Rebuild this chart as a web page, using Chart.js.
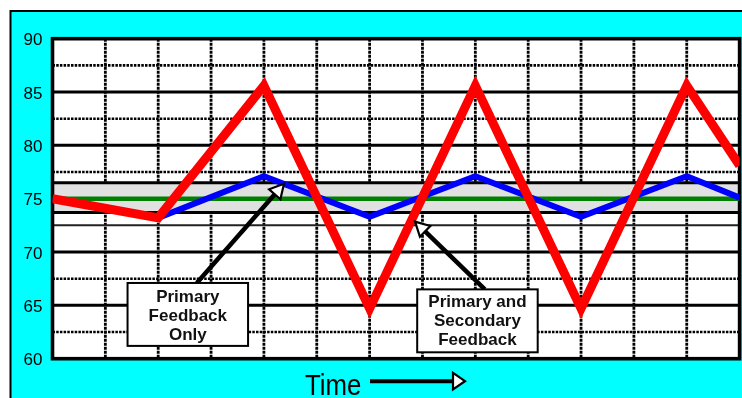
<!DOCTYPE html>
<html>
<head>
<meta charset="utf-8">
<script src="https://cdn.jsdelivr.net/npm/chart.js@4.4.1/dist/chart.umd.min.js"></script>
<style>
  html, body { margin: 0; padding: 0; background: #fff; overflow: hidden; }
  canvas { display: block; }
</style>
</head>
<body>
<canvas id="c" width="742" height="398"></canvas>
<script>
// Grid columns (time steps) where the responses turn
const timeSteps = [0, 2, 4, 6, 8, 10, 12, 13];
// Temperature with primary and secondary feedback (red)
const primaryAndSecondary = [75, 73.2, 85.6, 64.7, 85.6, 64.7, 85.6, 78.1];
// Temperature with primary feedback only (blue)
const primaryOnly = [75, 73.2, 77.1, 73.3, 77.1, 73.3, 77.1, 75.1];
// Set point (green)
const setPointTimes = [0, 13];
const setPoint = [75, 75];
// Value axis tick labels
const yTicks = [60, 65, 70, 75, 80, 85, 90];
// Horizontal reference lines and the shaded band
const solidLevels = [85, 80, 70, 65];
const dottedLevels = [87.5, 82.5, 77.5, 67.5, 62.5];
const thinLevels = [72.5];
const comfortBand = [73.7, 76.5];
// Vertical dotted columns
const columnLines = [1, 2, 3, 4, 5, 6, 7, 8, 9, 10, 11, 12];

// Callout boxes with arrows, placed in axis units
const notes = [
  { lines: ['Primary', 'Feedback', 'Only'], box: [1.42, 67.1, 3.70, 61.2], from: [2.73, 67.1], to: [4.38, 76.4], dy: 1.5 },
  { lines: ['Primary and', 'Secondary', 'Feedback'], box: [6.90, 66.5, 9.18, 60.6], from: [8.18, 66.5], to: [6.86, 72.85], dy: 0 }
];

const pts = (xs, ys) => xs.map((t, i) => ({ x: t, y: ys[i] }));

function drawArrow(ctx, x0, y0, x1, y1, head, half, shaft) {
  const ang = Math.atan2(y1 - y0, x1 - x0);
  const bx = x1 - head * Math.cos(ang), by = y1 - head * Math.sin(ang);
  ctx.save();
  ctx.setLineDash([]);
  ctx.strokeStyle = '#000';
  ctx.lineWidth = shaft;
  ctx.lineCap = 'butt';
  ctx.beginPath(); ctx.moveTo(x0, y0); ctx.lineTo(bx, by); ctx.stroke();
  ctx.beginPath();
  ctx.moveTo(x1, y1);
  ctx.lineTo(bx + half * Math.sin(ang), by - half * Math.cos(ang));
  ctx.lineTo(bx - half * Math.sin(ang), by + half * Math.cos(ang));
  ctx.closePath();
  ctx.fillStyle = '#fff'; ctx.fill();
  ctx.lineWidth = 2.2; ctx.lineJoin = 'miter'; ctx.stroke();
  ctx.restore();
}

function hLine(ctx, a, py) {
  ctx.beginPath(); ctx.moveTo(a.left, py); ctx.lineTo(a.right, py); ctx.stroke();
}

const decor = {
  id: 'decor',
  beforeDraw(chart) {
    const { ctx, chartArea: a } = chart;
    ctx.save();
    ctx.fillStyle = '#fff';
    ctx.fillRect(0, 0, chart.width, chart.height);
    ctx.fillStyle = '#00ffff';
    ctx.fillRect(10.5, 11, chart.width + 20, chart.height + 20);
    ctx.strokeStyle = '#000';
    ctx.lineWidth = 2;
    ctx.strokeRect(10.5, 11, chart.width + 20, chart.height + 20);
    ctx.fillStyle = '#fff';
    ctx.fillRect(a.left, a.top, a.right - a.left, a.bottom - a.top);
    ctx.restore();
  },
  beforeDatasetsDraw(chart) {
    const { ctx, chartArea: a } = chart;
    const xs = chart.scales.x, ys = chart.scales.y;
    ctx.save();
    ctx.beginPath(); ctx.rect(a.left, a.top, a.right - a.left, a.bottom - a.top); ctx.clip();
    ctx.strokeStyle = '#000';
    // dotted columns
    ctx.lineWidth = 2.8; ctx.setLineDash([3, 1]);
    columnLines.forEach(t => {
      const px = xs.getPixelForValue(t);
      ctx.beginPath(); ctx.moveTo(px, a.top); ctx.lineTo(px, a.bottom); ctx.stroke();
    });
    // dotted rows
    ctx.lineWidth = 2.6; ctx.setLineDash([2.5, 1.2]);
    dottedLevels.forEach(v => hLine(ctx, a, ys.getPixelForValue(v)));
    ctx.setLineDash([]);
    // solid rows
    ctx.lineWidth = 3;
    solidLevels.forEach(v => hLine(ctx, a, ys.getPixelForValue(v)));
    ctx.lineWidth = 2; ctx.strokeStyle = '#222';
    thinLevels.forEach(v => hLine(ctx, a, ys.getPixelForValue(v)));
    // shaded band
    const yb = ys.getPixelForValue(comfortBand[0]);
    const yt = ys.getPixelForValue(comfortBand[1]);
    ctx.fillStyle = '#e1e1e1';
    ctx.fillRect(a.left, yt, a.right - a.left, yb - yt);
    ctx.strokeStyle = '#000'; ctx.lineWidth = 3;
    hLine(ctx, a, yt); hLine(ctx, a, yb);
    ctx.restore();
    // plot frame
    ctx.save();
    ctx.strokeStyle = '#000'; ctx.lineWidth = 3.6;
    ctx.strokeRect(a.left, a.top, a.right - a.left, a.bottom - a.top);
    ctx.restore();
  },
  afterDatasetsDraw(chart) {
    const { ctx, chartArea: a } = chart;
    const xs = chart.scales.x, ys = chart.scales.y;
    const X = v => xs.getPixelForValue(v), Y = v => ys.getPixelForValue(v);
    notes.forEach(n => {
      drawArrow(ctx, X(n.from[0]), Y(n.from[1]), X(n.to[0]), Y(n.to[1]), 14, 7.5, 4.5);
      const x0 = X(n.box[0]), y0 = Y(n.box[1]), x1 = X(n.box[2]), y1 = Y(n.box[3]);
      ctx.save();
      ctx.fillStyle = '#fff'; ctx.fillRect(x0, y0, x1 - x0, y1 - y0);
      ctx.strokeStyle = '#000'; ctx.lineWidth = 2; ctx.strokeRect(x0, y0, x1 - x0, y1 - y0);
      ctx.fillStyle = '#111';
      ctx.font = 'bold 17px "Liberation Sans", Arial, sans-serif';
      ctx.textAlign = 'center'; ctx.textBaseline = 'middle';
      const cx = (x0 + x1) / 2, cy = (y0 + y1) / 2 + n.dy;
      n.lines.forEach((s, i) => ctx.fillText(s, cx, cy + (i - (n.lines.length - 1) / 2) * 19));
      ctx.restore();
    });
    // time axis caption with its arrow
    ctx.save();
    ctx.translate(305, a.bottom + 36.5);
    ctx.scale(0.86, 1);
    ctx.fillStyle = '#000';
    ctx.font = '30px "Liberation Sans", Arial, sans-serif';
    ctx.textBaseline = 'alphabetic';
    ctx.fillText('Time', 0, 0);
    ctx.restore();
    drawArrow(ctx, 370, a.bottom + 22.5, 465, a.bottom + 22.5, 12, 8.3, 4);
  }
};

new Chart(document.getElementById('c'), {
  type: 'line',
  data: {
    datasets: [
      { label: 'Primary and Secondary Feedback', data: pts(timeSteps, primaryAndSecondary),
        borderColor: '#ff0000', borderWidth: 9, order: 0 },
      { label: 'Primary Feedback Only', data: pts(timeSteps, primaryOnly),
        borderColor: '#0000ff', borderWidth: 6, order: 1 },
      { label: 'Set Point', data: pts(setPointTimes, setPoint),
        borderColor: '#008000', borderWidth: 4.5, order: 2 }
    ]
  },
  options: {
    responsive: false,
    animation: false,
    devicePixelRatio: 1,
    layout: { padding: { top: 38.7, bottom: 39.3, left: 0, right: 2.4 } },
    elements: {
      point: { radius: 0, hoverRadius: 0 },
      line: { tension: 0, borderJoinStyle: 'miter', borderCapStyle: 'butt', fill: false }
    },
    plugins: { legend: { display: false }, tooltip: { enabled: false } },
    scales: {
      x: { type: 'linear', min: 0, max: 13, display: false },
      y: {
        min: 60, max: 90,
        afterBuildTicks: s => { s.ticks = yTicks.map(v => ({ value: v })); },
        afterFit: s => { s.width = 52.5; },
        grid: { display: false, drawTicks: false },
        border: { display: false },
        ticks: {
          padding: 10, labelOffset: 2, color: '#000',
          font: { family: '"Liberation Sans", Arial, sans-serif', size: 17 }
        }
      }
    }
  },
  plugins: [decor]
});
</script>
</body>
</html>
